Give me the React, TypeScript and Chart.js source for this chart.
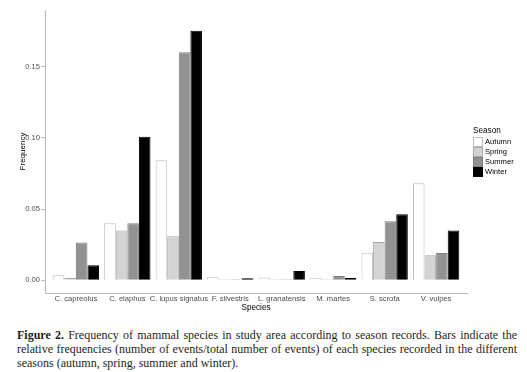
import React, { useEffect, useRef } from "react";
import { Chart, registerables } from "chart.js";

Chart.register(...registerables);

const species = [
  "C. capreolus",
  "C. elaphus",
  "C. lupus signatus",
  "F. silvestris",
  "L. granatensis",
  "M. martes",
  "S. scrofa",
  "V. vulpes",
];
const seasons = ["Autumn", "Spring", "Summer", "Winter"];
const autumn = [0.0035, 0.04, 0.0842, 0.0021, 0.002, 0.0014, 0.0194, 0.068];
const spring = [0.0016, 0.035, 0.0309, 0.0007, 0.0007, 0.0007, 0.0269, 0.0175];
const summer = [0.0266, 0.04, 0.16, 0.0007, 0.0007, 0.003, 0.0414, 0.0191];
const winter = [0.0105, 0.1007, 0.175, 0.0014, 0.0065, 0.0016, 0.0463, 0.035];
const yTicks = [0, 0.05, 0.1, 0.15];

const fills = ["#ffffff", "#d3d3d3", "#929292", "#000000"];
const borders = ["#bdbdbd", "#a8a8a8", "#7f7f7f", "#000000"];
const SANS = "'Liberation Sans', Arial, sans-serif";

export default function App() {
  const ref = useRef<HTMLCanvasElement | null>(null);
  useEffect(() => {
    if (!ref.current) return;
    const series = [autumn, spring, summer, winter];
    const overlay = {
      id: "overlay",
      afterDraw(chart: any) {
        const ctx = chart.ctx;
        const ca = chart.chartArea;
        ctx.save();
        // y title
        ctx.fillStyle = "#000";
        ctx.font = `8px ${SANS}`;
        ctx.textAlign = "center";
        ctx.textBaseline = "middle";
        ctx.save();
        ctx.translate(22.5, (ca.top + ca.bottom) / 2);
        ctx.rotate(-Math.PI / 2);
        ctx.fillText("Frequency", 0, 0);
        ctx.restore();
        // x title
        ctx.font = `8.2px ${SANS}`;
        ctx.fillText("Species", (ca.left + ca.right) / 2, 307.5);
        // legend
        ctx.textAlign = "left";
        ctx.font = `8.2px ${SANS}`;
        ctx.fillText("Season", 473, 130.7);
        ctx.font = `7.6px ${SANS}`;
        seasons.forEach((s, i) => {
          const y = 137 + i * 10;
          ctx.fillStyle = fills[i];
          ctx.fillRect(473, y, 10, 10);
          ctx.strokeStyle = borders[i];
          ctx.lineWidth = 1;
          ctx.strokeRect(473.5, y + 0.5, 9, 9);
          ctx.fillStyle = "#000";
          ctx.fillText(s, 485, y + 5);
        });
        ctx.restore();
      },
    };
    const chart = new Chart(ref.current, {
      type: "bar",
      data: {
        datasets: seasons.map((s, si) => ({
          label: s,
          data: species.map((_, i) => ({ x: i, y: series[si][i] })),
          backgroundColor: fills[si],
          borderColor: borders[si],
          borderWidth: 1,
          categoryPercentage: 0.9,
          barPercentage: 1.0,
        })),
      },
      options: {
        responsive: false,
        animation: false,
        layout: { padding: { left: 0, top: 10, right: 60, bottom: 0 } },
        plugins: {
          legend: { display: false },
          tooltip: { enabled: false },
        },
        scales: {
          x: {
            type: "linear",
            min: -0.6,
            max: 7.6,
            offset: false,
            afterBuildTicks: (axis: any) => {
              axis.ticks = species.map((_, i) => ({ value: i }));
            },
            afterFit: (scale: any) => {
              scale.height = 22;
            },
            grid: { display: false, drawTicks: false, tickLength: 0 },
            border: { display: true, color: "#b8b8b8", width: 1 },
            ticks: {
              autoSkip: false,
              maxRotation: 0,
              padding: 1,
              color: "#4d4d4d",
              font: { family: SANS, size: 7.6 },
              callback: (v: any) => species[Math.round(Number(v))] ?? "",
            },
          },
          y: {
            min: -0.0089,
            max: 0.1896,
            afterBuildTicks: (axis: any) => {
              axis.ticks = yTicks.map((v) => ({ value: v }));
            },
            afterFit: (scale: any) => {
              scale.width = 45;
            },
            grid: {
              display: true,
              drawOnChartArea: false,
              drawTicks: true,
              tickLength: 4,
              color: "#b8b8b8",
            },
            border: { display: true, color: "#b8b8b8", width: 1 },
            ticks: {
              padding: 1,
              color: "#4d4d4d",
              font: { family: SANS, size: 7.6 },
              callback: (v: any) => Number(v).toFixed(2),
            },
          },
        },
      },
      plugins: [overlay],
    } as any);
    return () => chart.destroy();
  }, []);

  return (
    <div
      style={{
        position: "absolute",
        left: 0,
        top: 0,
        width: 527,
        height: 372,
        background: "#fff",
        overflow: "hidden",
      }}
    >
      <canvas
        ref={ref}
        width={527}
        height={315}
        style={{ position: "absolute", left: 0, top: 0, width: 527, height: 315 }}
      />
      <div
        style={{
          position: "absolute",
          left: 17,
          top: 328,
          width: 500,
          fontFamily: "'Liberation Serif', 'Times New Roman', serif",
          fontSize: 12,
          lineHeight: "14px",
          textAlign: "justify",
          color: "#231f20",
        }}
      >
        <b>Figure 2.</b> Frequency of mammal species in study area according to
        season records. Bars indicate the relative frequencies (number of
        events/total number of events) of each species recorded in the different
        seasons (autumn, spring, summer and winter).
      </div>
    </div>
  );
}
